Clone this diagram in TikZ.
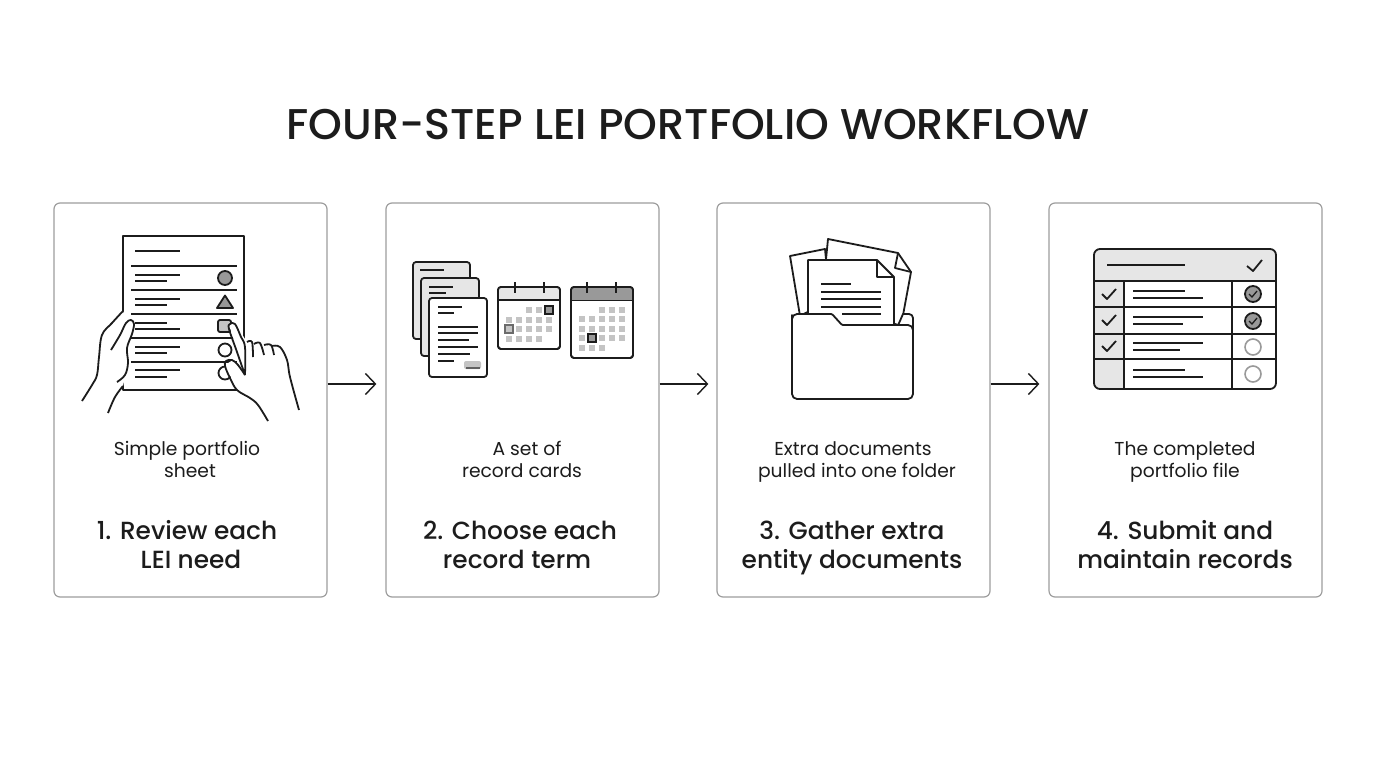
\documentclass[tikz,border=0pt]{standalone}
\usepackage{fontspec}
\setmainfont{Poppins}
\newfontfamily\medfont{Poppins Medium}
\usetikzlibrary{arrows.meta}
\definecolor{ink}{HTML}{1C1C1C}
\definecolor{edge}{HTML}{9E9E9E}
\definecolor{pale}{HTML}{E6E6E6}
\definecolor{cell}{HTML}{C4C4C4}
\definecolor{mid}{HTML}{999999}
\begin{document}
\begin{tikzpicture}[x=1pt,y=-1pt,
    card/.style={draw=edge,line width=1.2pt,rounded corners=6pt,minimum width=273pt,minimum height=394pt},
    heading/.style={font=\medfont\fontsize{24.8}{30}\selectfont,text=ink,inner sep=0pt,anchor=base},
    caption/.style={font=\fontsize{18.7}{22}\selectfont,text=ink,inner sep=0pt,anchor=base},
    flow/.style={-{Straight Barb[length=10pt,width=21pt,line width=1.4pt]},ink,line width=1.4pt},
    icon/.style={ink,line width=1.8pt,line join=round},
    thin/.style={ink,line width=1.6pt}]
    \useasboundingbox (0,0) rectangle (1376,768);
    \fill[white] (0,0) rectangle (1376,768);

    %title
    \node[font=\medfont\fontsize{43}{48}\selectfont,text=ink,inner sep=0pt,anchor=base] (title) at (688,139) {FOUR-STEP LEI PORTFOLIO WORKFLOW};

    %cards
    \node[card] (card1) at (190.5,400) {};
    \node[card] (card2) at (522.5,400) {};
    \node[card] (card3) at (853.5,400) {};
    \node[card] (card4) at (1185.5,400) {};

    %arrows
    \draw[flow] ([yshift=16pt]card1.east) -- ([xshift=-9pt,yshift=16pt]card2.west);
    \draw[flow] ([yshift=16pt]card2.east) -- ([xshift=-8pt,yshift=16pt]card3.west);
    \draw[flow] ([yshift=16pt]card3.east) -- ([xshift=-9pt,yshift=16pt]card4.west);

    %texts
    \node[caption] (cap1a) at (187,455) {Simple portfolio};
    \node[caption] (cap1b) at (190,477) {sheet};
    \node[caption] (cap2a) at (527,455) {A set of};
    \node[caption] (cap2b) at (522,477) {record cards};
    \node[caption] (cap3a) at (853,455) {Extra documents};
    \node[caption] (cap3b) at (857,477) {pulled into one folder};
    \node[caption] (cap4a) at (1185,455) {The completed};
    \node[caption] (cap4b) at (1185,477) {portfolio file};
    \node[heading] (head1a) at (187,539) {1. Review each};
    \node[heading] (head1b) at (191,568) {LEI need};
    \node[heading] (head2a) at (520,539) {2. Choose each};
    \node[heading] (head2b) at (517,568) {record term};
    \node[heading] (head3a) at (852,539) {3. Gather extra};
    \node[heading] (head3b) at (852,568) {entity documents};
    \node[heading] (head4a) at (1185,539) {4. Submit and};
    \node[heading] (head4b) at (1185,568) {maintain records};

    %sheet
    \draw[icon,fill=white] (123,236) rectangle (244,390);
    \draw[thin] (135,251) -- (180,251);
    \foreach \y in {266,290,314,338,362}
        \draw[thin] (131,\y) -- (237,\y);
    \foreach \y/\a/\z/\b in {275/180/281/167,299/180/305/167,323/167/329/180,347/180/353/167,370/180/377/167} {
        \draw[thin] (135,\y) -- (\a,\y);
        \draw[thin] (135,\z) -- (\b,\z);
    }
    \draw[icon,fill=mid] (225,278) circle (7);
    \draw[icon,fill=mid] (225,295.5) -- (233,308) -- (217,308) -- cycle;
    \draw[icon,fill=cell,rounded corners=2pt] (218,320) rectangle (231,332);
    \draw[icon,fill=white] (225,350) circle (6.5);
    \draw[icon,fill=white] (225,373) circle (6.5);

    %left hand
    \fill[white] (123,311) -- (102,335) -- (97,377) -- (82,401) -- (108,413) -- (123,386)
                 -- (128,363) -- (127,348) -- (133,323) -- (127,321) -- cycle;
    \draw[icon] plot[smooth,tension=0.6] coordinates {(82,401) (92,385) (97,375) (99,357) (102,335) (112,323) (123,311)};
    \draw[icon] plot[smooth,tension=0.6] coordinates {(111,350) (120,335) (126,323) (131,320) (134,324) (132,334) (127,348) (128,363) (125,375) (117,382)};
    \draw[icon] plot[smooth,tension=0.6] coordinates {(108,413) (115,397) (123,386)};

    %right hand
    \fill[white] (229,325) -- (234,322) -- (247,342) -- (273,345) -- (282,350) -- (290,377) -- (299,410)
                 -- (268,421) -- (258,405) -- (237,390) -- (225,365) -- (233,360) -- (245,375) -- cycle;
    \draw[icon] plot[smooth,tension=0.6] coordinates {(245,375) (237,352) (229,329) (230,324) (235,324) (241,337) (245,347) (245,375)};
    \draw[icon] plot[smooth,tension=0.6] coordinates {(247,342) (252,342) (253,357)};
    \draw[icon] plot[smooth,tension=0.6] coordinates {(254,344) (260,343) (264,355)};
    \draw[icon] plot[smooth,tension=0.6] coordinates {(264,345) (271,345) (274,355)};
    \draw[icon] plot[smooth,tension=0.6] coordinates {(272,346) (280,347) (287,360) (290,377) (299,410)};
    \draw[icon] plot[smooth,tension=0.6] coordinates {(245,375) (238,365) (232,360) (226,361) (225,366) (230,378) (237,390) (250,398) (258,405) (268,421)};

    %record cards
    \draw[icon,fill=pale,rounded corners=3pt] (413,262) rectangle (470,339);
    \draw[thin] (420,270) -- (444,270);
    \draw[icon,fill=pale,rounded corners=3pt] (421,278) rectangle (479,356);
    \draw[thin] (429,287) -- (453,287);
    \draw[thin] (429,293) -- (446,293);
    \draw[icon,fill=white,rounded corners=3pt] (429,298) rectangle (487,377);
    \foreach \y/\b in {307/462,313/454,327/478,333/478,340/469,347/478,354/470,361/454}
        \draw[thin] (438,\y) -- (\b,\y);
    \fill[cell,rounded corners=2pt] (464,361) rectangle (481,369);
    \draw[ink!70,line width=2pt] (466,368) -- (480,368);

    %first calendar
    \draw[icon,fill=white,rounded corners=3pt] (498,287) rectangle (560,349);
    \begin{scope}
    \clip[rounded corners=3pt] (498,287) rectangle (560,349);
    \fill[pale] (498,287) rectangle (560,300);
    \end{scope}
    \draw[icon,rounded corners=3pt] (498,287) rectangle (560,349);
    \draw[icon] (498,300) -- (560,300);
    \draw[icon] (515,282) -- (515,293);
    \draw[icon] (544,282) -- (544,293);
    \foreach \x/\y in {529/310,539/310,509/320,519/320,529/320,539/320,549/320,519/329,529/329,539/329,549/329,509/339,519/339,529/339,539/339}
        \fill[cell] (\x-3,\y-3) rectangle (\x+3,\y+3);
    \draw[ink,line width=1.5pt,fill=mid] (545,306) rectangle (553,314);
    \draw[mid!70!black,line width=1.2pt,fill=cell] (505,325) rectangle (513,333);

    %second calendar
    \draw[icon,fill=white,rounded corners=3pt] (571,287) rectangle (633,358);
    \begin{scope}
    \clip[rounded corners=3pt] (571,287) rectangle (633,358);
    \fill[mid] (571,287) rectangle (633,300.5);
    \end{scope}
    \draw[icon,rounded corners=3pt] (571,287) rectangle (633,358);
    \draw[icon] (571,300.5) -- (633,300.5);
    \draw[icon] (587,282) -- (587,293);
    \draw[icon] (616,282) -- (616,293);
    \foreach \x/\y in {602/310,612/310,622/310,582/319,592/319,602/319,612/319,622/319,582/329,592/329,602/329,612/329,622/329,582/338,602/338,612/338,622/338,582/348,592/348,602/348}
        \fill[cell] (\x-3,\y-3) rectangle (\x+3,\y+3);
    \draw[ink,line width=1.6pt,fill=mid] (588,334) rectangle (596,342);

    %folder with papers
    \draw[icon,fill=white] (800,316) -- (790,256) -- (825,249) -- (830,300) -- cycle;
    \draw[icon,fill=white] (828,239) -- (898,253) -- (911,272) -- (901,326) -- (822,300) -- cycle;
    \draw[icon] (898,253) -- (895,268) -- (911,272);
    \draw[icon,fill=white] (903,314) -- (909,314) arc (-90:0:4) -- (913,330) -- (896,330) -- cycle;
    \draw[icon,fill=white] (808,326) -- (808,260) -- (877,260) -- (894,277) -- (894,326);
    \draw[icon] (877,260) -- (877,277) -- (894,277);
    \draw[thin] (821,284) -- (851,284);
    \foreach \y in {292,299,307}
        \draw[thin] (821,\y) -- (881,\y);
    \draw[thin] (842,314) -- (881,314);
    \draw[icon,fill=white] (792,320) [rounded corners=5pt] -- (792,314) [rounded corners=1pt] -- (832,314) -- (842,325)
        [rounded corners=5pt] -- (913,325) -- (913,399) -- (792,399) -- cycle;

    %table
    \begin{scope}
    \clip[rounded corners=6pt] (1094,249) rectangle (1276,389);
    \fill[pale] (1094,249) rectangle (1276,281);
    \fill[pale] (1094,281) rectangle (1124,389);
    \end{scope}
    \draw[icon,rounded corners=6pt] (1094,249) rectangle (1276,389);
    \foreach \y in {281,307,334,359}
        \draw[icon] (1094,\y) -- (1276,\y);
    \draw[icon] (1124,281) -- (1124,389);
    \draw[icon] (1232,281) -- (1232,389);
    \draw[thin] (1107,265) -- (1185,265);
    \draw[icon] (1247,266) -- (1253,271) -- (1262,260);
    \foreach \y in {294,320,346}
        \draw[icon] (1102,\y) -- (1107,\y+5) -- (1116,\y-5);
    \foreach \y/\a/\b in {291/1185/1203,317/1203/1183,343/1203/1180,370/1185/1203} {
        \draw[thin] (1133,\y) -- (\a,\y);
        \draw[thin] (1133,\y+7) -- (\b,\y+7);
    }
    \foreach \y in {294,321} {
        \draw[icon,fill=mid] (1253,\y) circle (8);
        \draw[ink,line width=1.3pt] (1249,\y) -- (1252,\y+3) -- (1257,\y-3);
    }
    \foreach \y in {347,374}
        \draw[mid,line width=1.6pt,fill=white] (1253,\y) circle (8);
\end{tikzpicture}
\end{document}
